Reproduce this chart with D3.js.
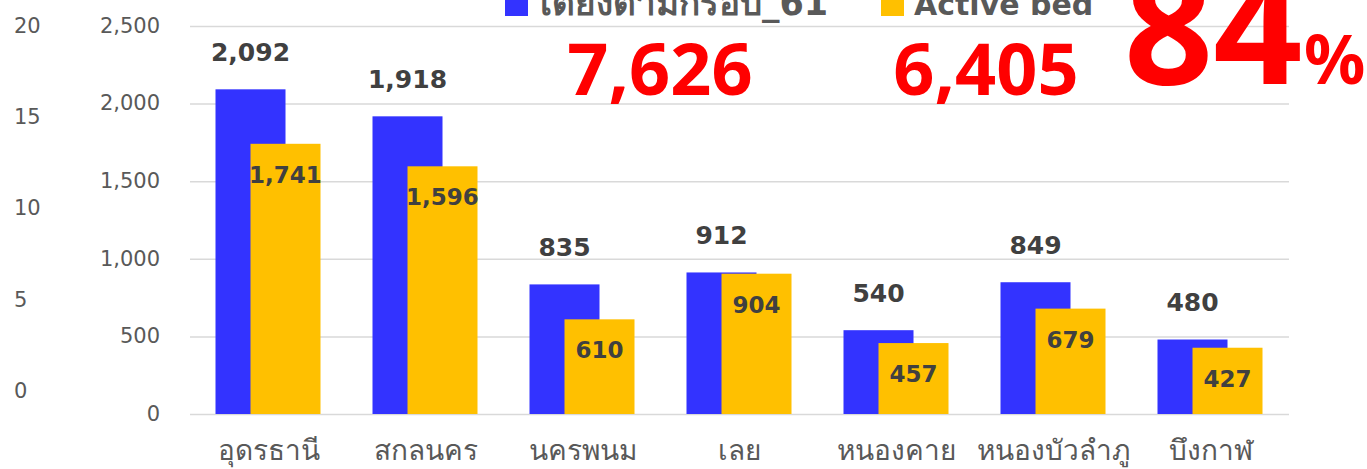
<!DOCTYPE html>
<html>
<head>
<meta charset="utf-8">
<script src="https://cdn.jsdelivr.net/npm/d3@7"></script>
<style>
  body { margin: 0; background: #fff; }
  svg { display: block; font-family: "DejaVu Sans", "Noto Sans", sans-serif; }
  .grid line { stroke: #d9d9d9; stroke-width: 1.5; }
  .tick text { fill: #595959; font-size: 21px; font-family: "DejaVu Sans", sans-serif; }
</style>
</head>
<body>
<svg width="1367" height="469"></svg>
<script>
const categories = ["อุดรธานี", "สกลนคร", "นครพนม", "เลย", "หนองคาย", "หนองบัวลำภู", "บึงกาฬ"];
const planBeds = [2092, 1918, 835, 912, 540, 849, 480];
const activeBeds = [1741, 1596, 610, 904, 457, 679, 427];
const seriesNames = ["เตียงตามกรอบ_61", "Active bed"];
const leftTicks = [0, 5, 10, 15, 20];
const mainTicks = [0, 500, 1000, 1500, 2000, 2500];
const totals = ["7,626", "6,405"];
const ratio = "84";

const colors = ["#3333ff", "#ffc000"];
const svg = d3.select("svg");
const fmt = d3.format(",");

const plotLeft = 190, plotRight = 1289, plotTop = 26, plotBottom = 414;

const x = d3.scaleBand().domain(categories).range([plotLeft, plotRight]);
const y = d3.scaleLinear().domain([0, 2500]).range([plotBottom, plotTop]);
const y2 = d3.scaleLinear().domain([0, 20]).range([391, 26]);

// gridlines + main axis
const gAxis = svg.append("g")
  .attr("class", "grid")
  .attr("transform", `translate(${plotLeft},0)`)
  .call(d3.axisLeft(y).tickValues(mainTicks).tickFormat(fmt).tickSize(-(plotRight - plotLeft)).tickPadding(30));
gAxis.select(".domain").remove();
gAxis.selectAll(".tick line").attr("stroke", "#d9d9d9");
gAxis.selectAll(".tick text").attr("dy", "0.3em");
gAxis.selectAll(".tick").filter(d => d === 0).select("line").attr("stroke-width", 2.5);

// secondary (empty) axis on the far left
const gAxis2 = svg.append("g")
  .attr("transform", "translate(14,0)")
  .call(d3.axisLeft(y2).tickValues(leftTicks).tickSize(0).tickPadding(0));
gAxis2.select(".domain").remove();
gAxis2.selectAll(".tick text").attr("text-anchor", "start").attr("dy", "0.3em");

const cx = c => x(c) + x.bandwidth() / 2;
const bw = 70;

// blue bars
svg.append("g").selectAll("rect")
  .data(categories)
  .join("rect")
  .attr("x", c => cx(c) - 53)
  .attr("width", bw)
  .attr("y", (c, i) => y(planBeds[i]))
  .attr("height", (c, i) => plotBottom - y(planBeds[i]))
  .attr("fill", colors[0]);

// yellow bars
svg.append("g").selectAll("rect")
  .data(categories)
  .join("rect")
  .attr("x", c => cx(c) - 18)
  .attr("width", bw)
  .attr("y", (c, i) => y(activeBeds[i]))
  .attr("height", (c, i) => plotBottom - y(activeBeds[i]))
  .attr("fill", colors[1]);

// value labels
svg.append("g").selectAll("text")
  .data(categories)
  .join("text")
  .attr("x", c => cx(c) - 18)
  .attr("y", (c, i) => y(planBeds[i]) - 37)
  .attr("dy", "0.35em")
  .attr("text-anchor", "middle")
  .attr("font-size", 25)
  .attr("font-weight", "bold")
  .attr("fill", "#404040")
  .text((c, i) => fmt(planBeds[i]));

svg.append("g").selectAll("text")
  .data(categories)
  .join("text")
  .attr("x", c => cx(c) + 17)
  .attr("y", (c, i) => y(activeBeds[i]) + 31)
  .attr("dy", "0.35em")
  .attr("text-anchor", "middle")
  .attr("font-size", 23)
  .attr("font-weight", "bold")
  .attr("fill", "#404040")
  .text((c, i) => fmt(activeBeds[i]));

// category labels
svg.append("g").selectAll("text")
  .data(categories)
  .join("text")
  .attr("x", cx)
  .attr("y", 460)
  .attr("text-anchor", "middle")
  .attr("font-size", 28)
  .attr("fill", "#595959")
  .text(d => d);

// legend (cut off at the top)
const legend = [[505, 540], [881, 914]];
legend.forEach(([sx, tx], i) => {
  svg.append("rect").attr("x", sx).attr("y", -4).attr("width", 23).attr("height", 20).attr("fill", colors[i]);
  svg.append("text").attr("x", tx).attr("y", 15)
    .attr("font-size", i === 0 ? 35 : 30).attr("font-weight", "bold").attr("fill", "#595959")
    .text(seriesNames[i]);
});

// totals
svg.append("text").attr("x", 660).attr("y", 95).attr("text-anchor", "middle")
  .attr("font-family", "Noto Sans, sans-serif")
  .attr("font-size", 72).attr("font-weight", "bold").attr("fill", "#ff0000").text(totals[0]);
svg.append("text").attr("x", 986).attr("y", 95).attr("text-anchor", "middle")
  .attr("font-family", "Noto Sans, sans-serif")
  .attr("font-size", 72).attr("font-weight", "bold").attr("fill", "#ff0000").text(totals[1]);

svg.append("text").attr("x", 1124).attr("y", 84)
  .attr("font-family", "Noto Sans, sans-serif")
  .attr("font-size", 156).attr("font-weight", "bold").attr("fill", "#ff0000").text(ratio);
svg.append("text").attr("x", 1304).attr("y", 84)
  .attr("font-family", "Noto Sans, sans-serif")
  .attr("font-size", 68).attr("font-weight", "bold").attr("fill", "#ff0000").text("%");
</script>
</body>
</html>
